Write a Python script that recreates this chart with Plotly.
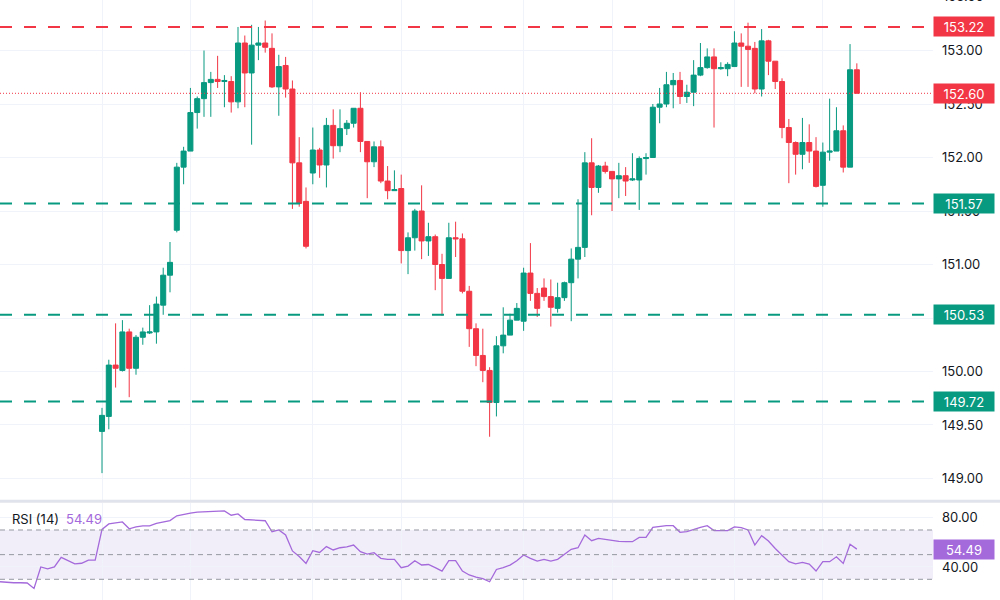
import plotly.graph_objects as go

# ---------------- data ----------------
idx = list(range(112))
opens = [149.44,149.58,150.06,150.01,150.37,150.03,150.32,150.36,150.37,150.62,
         150.90,151.32,151.91,152.06,152.42,152.55,152.70,152.73,152.71,152.71,
         152.52,153.07,152.79,153.05,153.07,153.02,152.66,152.86,152.64,151.95,
         151.59,151.855,152.07,151.93,152.30,152.11,152.27,152.32,152.46,152.15,
         151.96,152.10,151.78,151.69,151.71,151.13,151.25,151.50,151.22,151.26,
         151.00,150.87,151.25,151.24,150.75,150.40,150.15,150.01,149.71,150.24,
         150.34,150.48,150.47,150.92,150.73,150.78,150.70,150.59,150.69,150.83,
         151.05,151.16,151.95,151.72,151.92,151.87,151.80,151.83,151.79,151.79,
         151.99,152.00,152.47,152.50,152.68,152.72,152.57,152.61,152.77,152.84,
         152.94,152.83,152.83,152.85,153.07,153.04,153.02,152.64,153.09,152.90,
         152.71,152.28,152.14,152.03,152.14,152.06,151.74,152.05,152.06,152.25,
         151.91,152.82]
highs = [149.66,150.11,150.45,150.48,150.40,150.34,150.41,150.62,150.70,150.97,
         151.21,151.95,152.10,152.65,152.57,153.00,152.80,152.95,152.77,152.76,
         153.22,153.14,153.24,153.22,153.28,153.16,152.96,152.94,152.72,152.19,
         151.72,152.28,152.09,152.37,152.45,152.45,152.35,152.46,152.61,152.15,
         152.15,152.16,151.92,151.88,151.84,151.30,151.52,151.74,151.39,151.28,
         151.10,151.39,151.40,151.29,150.80,150.45,150.40,150.04,150.33,150.60,
         150.54,150.64,150.97,151.20,150.78,150.87,150.86,150.83,150.84,151.15,
         151.61,152.05,152.18,151.93,151.96,151.87,151.95,151.91,152.04,152.01,
         152.04,152.50,152.65,152.80,152.79,152.80,152.68,152.91,153.07,153.02,
         153.02,152.89,152.89,153.18,153.16,153.26,153.08,153.20,153.10,152.90,
         152.74,152.36,152.15,152.37,152.31,152.19,152.14,152.55,152.47,152.30,
         153.06,152.88]
lows = [149.05,149.46,149.85,150.00,149.76,149.97,150.25,150.35,150.26,150.53,
        150.74,151.30,151.75,152.06,152.27,152.38,152.38,152.65,152.47,152.42,
        152.46,152.47,152.12,152.91,152.98,152.65,152.39,152.56,151.52,151.54,
        151.15,151.75,151.81,151.72,151.99,152.05,152.21,152.28,152.05,151.62,
        151.91,151.76,151.61,151.69,151.01,150.91,151.13,151.05,151.08,150.76,
        150.52,150.87,151.07,150.73,150.23,150.05,149.90,149.39,149.58,150.17,
        150.34,150.48,150.38,150.66,150.51,150.66,150.42,150.55,150.66,150.47,
        150.87,151.07,151.46,151.67,151.85,151.50,151.62,151.64,151.78,151.51,
        151.84,152.00,152.32,152.47,152.46,152.50,152.51,152.48,152.76,152.83,
        152.28,152.82,152.76,152.85,152.66,152.66,152.60,152.57,152.77,152.64,
        152.18,151.76,151.84,151.89,151.95,151.72,151.54,151.97,152.06,151.86,
        151.91,152.60]
closes = [149.59,150.06,150.03,150.37,150.03,150.32,150.37,150.37,150.63,150.90,
          151.02,151.91,152.06,152.42,152.55,152.70,152.73,152.71,152.72,152.52,
          153.07,152.79,153.05,153.07,153.03,152.66,152.85,152.64,151.95,151.57,
          151.17,152.07,151.93,152.30,152.11,152.27,152.32,152.46,152.15,151.96,
          152.10,151.78,151.69,151.70,151.13,151.25,151.50,151.22,151.26,151.00,
          150.87,151.25,151.24,150.75,150.40,150.15,150.01,149.71,150.24,150.34,
          150.48,150.59,150.92,150.73,150.59,150.70,150.60,150.69,150.83,151.05,
          151.16,151.95,151.72,151.92,151.87,151.80,151.83,151.78,151.80,151.99,
          152.00,152.47,152.50,152.68,152.72,152.57,152.61,152.77,152.84,152.94,
          152.83,152.84,152.87,153.07,153.04,153.01,152.64,153.09,152.90,152.71,
          152.28,152.14,152.03,152.14,152.06,151.73,152.05,152.06,152.25,151.91,
          152.82,152.60]

rsi_idx = list(range(-15, 112))
rsi_vals = [28.0,27.5,27.2,27.2,27.0,22.6,40.0,38.5,40.0,47.8,45.0,42.5,43.0,45.6,45.6,
            70.5,74.9,75.4,76.5,71.0,72.5,73.3,73.3,75.4,76.8,77.6,81.5,82.8,83.6,84.5,
            84.9,85.3,85.5,85.5,82.0,83.0,78.5,78.1,78.1,77.5,68.6,70.0,66.0,53.0,48.5,
            42.9,53.2,51.8,56.5,53.8,55.6,56.3,57.8,52.4,50.5,51.6,47.0,46.2,46.2,39.4,
            40.7,45.1,41.6,42.0,39.5,36.7,45.1,45.1,36.7,33.5,31.7,30.5,28.0,38.0,39.5,
            41.5,45.1,49.7,47.0,44.8,46.2,44.8,46.2,50.5,54.3,55.6,65.9,61.3,63.2,62.4,
            61.3,60.8,60.5,60.5,64.0,64.0,72.2,73.0,73.5,73.5,68.1,68.6,70.6,72.2,73.5,
            69.5,69.5,69.5,72.5,72.0,70.0,57.8,65.4,61.0,55.0,49.5,44.3,42.5,43.7,42.4,
            36.7,44.3,44.3,48.3,42.9,58.4,54.49]

support_levels = [151.57, 150.53, 149.72]
resistance_level = 153.22
last_price = 152.60
rsi_last = 54.49
price_ticks = [149.0, 149.5, 150.0, 150.5, 151.0, 151.5, 152.0, 152.5, 153.0]
rsi_ticks = [40, 80]
session_ticks = [0, 13, 31, 44, 62, 75, 93, 106]

# ---------------- style ----------------
GREEN = "#089981"
RED = "#F23645"
PURPLE = "#A469DB"
GRID = "#F0F3FA"
TXT = "#131722"
FONT = "Inter"

X_RANGE = [-15, 122.2]
Y_RANGE = [148.799, 153.472]
RSI_RANGE = [13.2, 91.9]

fig = go.Figure()

fig.add_trace(go.Candlestick(
    x=idx, open=opens, high=highs, low=lows, close=closes,
    increasing=dict(line=dict(color=GREEN, width=1), fillcolor=GREEN),
    decreasing=dict(line=dict(color=RED, width=1), fillcolor=RED),
    whiskerwidth=0, showlegend=False, hoverinfo="skip",
    xaxis="x", yaxis="y",
))

fig.add_trace(go.Scatter(
    x=rsi_idx, y=rsi_vals, mode="lines",
    line=dict(color=PURPLE, width=1.3),
    showlegend=False, hoverinfo="skip", xaxis="x2", yaxis="y2",
))

shapes = []
# level lines
shapes.append(dict(type="line", xref="paper", yref="y", x0=0, x1=1,
                   y0=resistance_level, y1=resistance_level,
                   line=dict(color=RED, width=2, dash="12px,12px")))
for lv in support_levels:
    shapes.append(dict(type="line", xref="paper", yref="y", x0=0, x1=1,
                       y0=lv, y1=lv,
                       line=dict(color=GREEN, width=2, dash="12px,12px")))
shapes.append(dict(type="line", xref="paper", yref="y", x0=0, x1=1,
                   y0=last_price, y1=last_price,
                   line=dict(color=RED, width=1, dash="1px,2px")))
# RSI band
shapes.append(dict(type="rect", xref="paper", yref="y2", x0=0, x1=1, y0=30, y1=70,
                   fillcolor="rgba(126,87,194,0.10)", line=dict(width=0), layer="below"))
for lv in (70, 50, 30):
    shapes.append(dict(type="line", xref="paper", yref="y2", x0=0, x1=1, y0=lv, y1=lv,
                       line=dict(color="#9598A1", width=1, dash="5px,4px")))
# pane separator
shapes.append(dict(type="line", xref="paper", yref="paper", x0=0, x1=1.08,
                   y0=0.1645, y1=0.1645, line=dict(color="#E0E3EB", width=3)))

annotations = []
def badge(y, text, color, yref="y"):
    annotations.append(dict(x=1, xref="paper", y=y, yref=yref, text=text,
                            showarrow=False, xanchor="left", yanchor="middle",
                            font=dict(color="white", size=13, family=FONT),
                            bgcolor=color, borderpad=2, width=56, height=15,
                            align="center"))

badge(resistance_level, f"{resistance_level:.2f}", RED)
badge(last_price, f"{last_price:.2f}", RED)
for lv in support_levels:
    badge(lv, f"{lv:.2f}", GREEN)
badge(rsi_last, f"{rsi_last:.2f}", PURPLE, yref="y2")

# partially visible top label
annotations.append(dict(x=1, xref="paper", y=1.0067, yref="paper", text="153.50",
                        showarrow=False, xanchor="left", yanchor="middle", xshift=8,
                        font=dict(color=TXT, size=13, family=FONT)))
# RSI title
annotations.append(dict(x=10 / 933, xref="paper", y=(600 - 519) / 600, yref="paper",
                        text="RSI (14)", showarrow=False, xanchor="left", yanchor="middle",
                        font=dict(color=TXT, size=13, family=FONT)))
annotations.append(dict(x=64 / 933, xref="paper", y=(600 - 519) / 600, yref="paper",
                        text=f"{rsi_last:.2f}", showarrow=False, xanchor="left", yanchor="middle",
                        font=dict(color=PURPLE, size=13, family=FONT)))

fig.update_layout(
    width=1000, height=600,
    margin=dict(l=0, r=67, t=0, b=0, autoexpand=False),
    paper_bgcolor="white", plot_bgcolor="white",
    font=dict(family=FONT, color=TXT, size=13),
    showlegend=False,
    boxgap=0.26, boxgroupgap=0,
    shapes=shapes, annotations=annotations,
    xaxis=dict(domain=[0, 1], range=X_RANGE, anchor="y",
               tickvals=session_ticks, showticklabels=False, ticks="",
               showgrid=True, gridcolor=GRID, gridwidth=1, zeroline=False,
               rangeslider=dict(visible=False), showline=False, fixedrange=True),
    yaxis=dict(domain=[100 / 600, 1], range=Y_RANGE, side="right", anchor="x",
               tickvals=price_ticks, ticktext=[f"{v:.2f}" for v in price_ticks],
               showgrid=True, gridcolor=GRID, zeroline=False, ticks="",
               ticklabelstandoff=8, showline=False, automargin=False,
               tickfont=dict(size=13, color=TXT, family=FONT)),
    xaxis2=dict(domain=[0, 1], range=X_RANGE, anchor="y2",
                tickvals=session_ticks, showticklabels=False, ticks="",
                showgrid=True, gridcolor=GRID, zeroline=False, showline=False),
    yaxis2=dict(domain=[0, 97 / 600], range=RSI_RANGE, side="right", anchor="x2",
                tickvals=rsi_ticks, ticktext=[f"{v:.2f}" for v in rsi_ticks],
                showgrid=True, gridcolor=GRID, zeroline=False, ticks="",
                ticklabelstandoff=8, showline=False, automargin=False,
                tickfont=dict(size=13, color=TXT, family=FONT)),
)

fig.write_html("out.html",
               config={"displayModeBar": False, "staticPlot": True},
               post_script="document.body.style.margin='0';document.body.style.overflow='hidden';")
